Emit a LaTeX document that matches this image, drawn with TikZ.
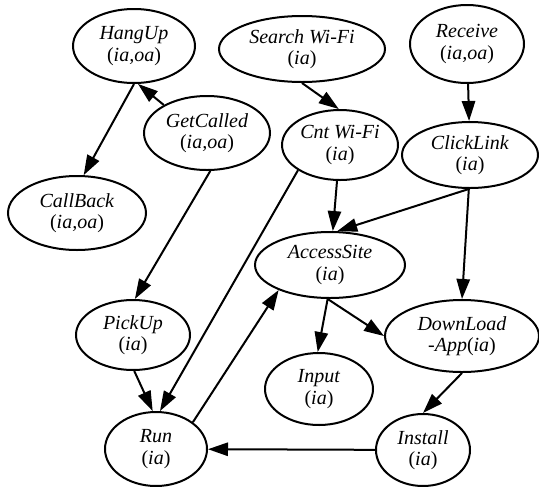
\documentclass[tikz,border=0pt]{standalone}
\usepackage{fontspec}
\setmainfont{Liberation Serif}
\usetikzlibrary{shapes.geometric,arrows.meta}

\tikzset{every picture/.style={line width=1.5pt}}
\tikzset{st/.style 2 args={ellipse,draw,inner sep=0pt,align=center,minimum width=#1,minimum height=#2,font=\fontsize{15}{16}\selectfont}}
\tikzset{arr/.style={-{Triangle[length=15pt,width=10pt]}}}

\begin{document}
\begin{tikzpicture}[x=0.75pt,y=0.75pt,yscale=-1,xscale=1]
\useasboundingbox (0,0) rectangle (539,486);

%Shape: Ellipse [HangUp]
\node[st={91.5pt}{55.5pt}] (hangup) at (134,46) {\textit{HangUp}\\(\textit{ia,oa})};
%Shape: Ellipse [Search Wi-Fi]
\node[st={124.5pt}{49.5pt}] (search) at (302,49) {\textit{Search Wi-Fi}\\(\textit{ia})};
%Shape: Ellipse [Receive]
\node[st={85.5pt}{58.5pt}] (receive) at (467,44) {\textit{Receive}\\(\textit{ia,oa})};
%Shape: Ellipse [GetCalled]
\node[st={94.5pt}{55.5pt}] (getcalled) at (207,133) {\textit{GetCalled}\\(\textit{ia,oa})};
%Shape: Ellipse [Cnt Wi-Fi]
\node[st={87pt}{52.5pt}] (cntwifi) at (340,145) {\textit{Cnt Wi-Fi}\\(\textit{ia})};
%Shape: Ellipse [ClickLink]
\node[st={102pt}{49.5pt}] (clicklink) at (470,155) {\textit{ClickLink}\\(\textit{ia})};
%Shape: Ellipse [CallBack]
\node[st={103.5pt}{55.5pt}] (callback) at (77,213) {\textit{CallBack}\\(\textit{ia,oa})};
%Shape: Ellipse [AccessSite]
\node[st={112.5pt}{49.5pt}] (accesssite) at (330,265) {\textit{AccessSite}\\(\textit{ia})};
%Shape: Ellipse [PickUp]
\node[st={85.5pt}{52.5pt}] (pickup) at (133,335) {\textit{PickUp}\\(\textit{ia})};
%Shape: Ellipse [DownLoad]
\node[st={115.5pt}{54pt}] (download) at (462,336) {\textit{DownLoad}\\\textit{-App}(\textit{ia})};
%Shape: Ellipse [Input]
\node[st={81pt}{54pt}] (input) at (319,389) {\textit{Input}\\(\textit{ia})};
%Shape: Ellipse [Install]
\node[st={70.5pt}{54pt}] (install) at (423,450) {\textit{Install}\\(\textit{ia})};
%Shape: Ellipse [Run]
\node[st={76.5pt}{55.5pt}] (run) at (156,449) {\textit{Run}\\(\textit{ia})};

%Straight Lines
\draw[arr] (hangup.270) -- (callback.80);
\draw[arr] (getcalled.147) -- (hangup.276);
\draw[arr] (getcalled.275) -- (pickup.87);
\draw[arr] (search.270) -- (cntwifi.92);
\draw[arr] (receive) -- (clicklink);
\draw[arr] (cntwifi) -- (accesssite);
\draw[arr] (clicklink.268) -- (accesssite.78);
\draw[arr] (clicklink.268) -- (download.90);
\draw[arr] (cntwifi.211) -- (run.84);
\draw[arr] (run.36) -- (accesssite.206);
\draw[arr] (accesssite.266) -- (input.92);
\draw[arr] (accesssite.266) -- (download.180);
\draw[arr] (pickup.272) -- (run.95);
\draw[arr] (download.270) -- (install.90);
\draw[arr] (install) -- (run);

\end{tikzpicture}
\end{document}
